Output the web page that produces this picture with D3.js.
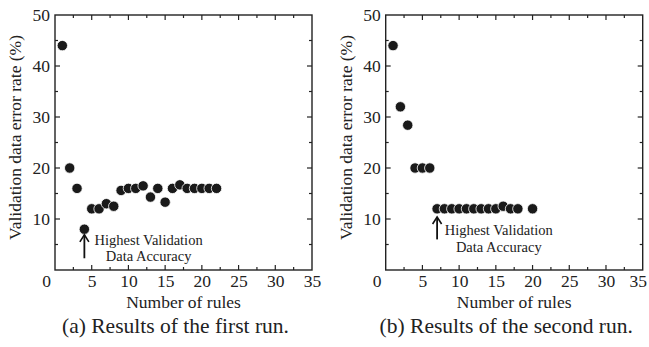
<!DOCTYPE html>
<html>
<head>
<meta charset="utf-8">
<script src="https://cdn.jsdelivr.net/npm/d3@7"></script>
<style>
  body { margin: 0; background: #fff; }
  svg { display: block; }
  text { font-family: "Liberation Serif", "Times New Roman", serif; fill: #222; }
</style>
</head>
<body>
<svg id="chart" width="649" height="347"></svg>
<script>
// data: number of rules vs validation error rate (%)
const rulesA = [1, 2, 3, 4, 5, 6, 7, 8, 9, 10, 11, 12, 13, 14, 15, 16, 17, 18, 19, 20, 21, 22];
const errorA = [44, 20, 16, 8, 12, 12, 13, 12.5, 15.6, 16, 16, 16.5, 14.3, 16, 13.3, 16, 16.7, 16, 16, 16, 16, 16];
const rulesB = [1, 2, 3, 4, 5, 6, 7, 8, 9, 10, 11, 12, 13, 14, 15, 16, 17, 18, 20];
const errorB = [44, 32, 28.4, 20, 20, 20, 12, 12, 12, 12, 12, 12, 12, 12, 12, 12.5, 12, 12, 12];
const xTicks = [0, 5, 10, 15, 20, 25, 30, 35];
const yTicks = [10, 20, 30, 40, 50];
const captions = ['(a) Results of the first run.', '(b) Results of the second run.'];
const bestA = 4, bestB = 7;

const svg = d3.select('#chart');

function panel(offsetX, rules, errors, best, caption, note, lastShift) {
  const m = { left: 55, top: 15 };
  const w = 257, h = 255;
  const x = d3.scaleLinear().domain([0, 35]).range([0, w]);
  const y = d3.scaleLinear().domain([0, 50]).range([h, 0]);

  const g = svg.append('g').attr('transform', `translate(${offsetX + m.left},${m.top})`);

  // minor ticks on all sides
  const minorX = d3.range(2.5, 35, 5);
  const minorY = d3.range(5, 50, 10);

  const frame = g.append('g');
  frame.append('rect').attr('width', w).attr('height', h)
    .attr('fill', 'none').attr('stroke', '#222').attr('stroke-width', 1.4);

  const tickG = frame.append('g').attr('stroke', '#222').attr('stroke-width', 1.2);
  xTicks.slice(1, -1).forEach(t => {
    tickG.append('line').attr('x1', x(t)).attr('x2', x(t)).attr('y1', h).attr('y2', h - 5);
    tickG.append('line').attr('x1', x(t)).attr('x2', x(t)).attr('y1', 0).attr('y2', 5);
  });
  minorX.forEach(t => {
    tickG.append('line').attr('x1', x(t)).attr('x2', x(t)).attr('y1', h).attr('y2', h - 3);
    tickG.append('line').attr('x1', x(t)).attr('x2', x(t)).attr('y1', 0).attr('y2', 3);
  });
  yTicks.slice(0, -1).forEach(t => {
    tickG.append('line').attr('x1', 0).attr('x2', 5).attr('y1', y(t)).attr('y2', y(t));
    tickG.append('line').attr('x1', w).attr('x2', w - 5).attr('y1', y(t)).attr('y2', y(t));
  });
  minorY.forEach(t => {
    tickG.append('line').attr('x1', 0).attr('x2', 3).attr('y1', y(t)).attr('y2', y(t));
    tickG.append('line').attr('x1', w).attr('x2', w - 3).attr('y1', y(t)).attr('y2', y(t));
  });

  // tick labels through d3 axes, lines hidden
  const xAxis = g.append('g').attr('transform', `translate(0,${h})`)
    .call(d3.axisBottom(x).tickValues(xTicks).tickSize(0).tickPadding(5));
  const yAxis = g.append('g')
    .call(d3.axisLeft(y).tickValues(yTicks).tickSize(0).tickPadding(5));
  [xAxis, yAxis].forEach(a => {
    a.select('.domain').remove();
    a.selectAll('text').attr('font-size', 17.5).attr('font-family', '"Liberation Serif", serif').attr('fill', '#222');
  });
  xAxis.selectAll('text').filter(d => d === 0).attr('dx', -9);
  xAxis.selectAll('text').filter(d => d === 35).attr('dx', lastShift);

  // axis titles
  g.append('text').attr('x', w / 2).attr('y', h + 38).attr('text-anchor', 'middle')
    .attr('font-size', 17.5).text('Number of rules');
  g.append('text').attr('transform', `translate(-34,${h / 2 - 5}) rotate(-90)`)
    .attr('text-anchor', 'middle').attr('font-size', 17.5).text('Validation data error rate (%)');
  g.append('text').attr('x', w / 2 - 8).attr('y', h + 63).attr('text-anchor', 'middle')
    .attr('font-size', 21.5).text(caption);

  // points
  g.selectAll('circle').data(rules.map((r, i) => [r, errors[i]])).enter().append('circle')
    .attr('cx', d => x(d[0])).attr('cy', d => y(d[1])).attr('r', 5.2)
    .attr('fill', '#1a1a1a').attr('stroke', '#fff').attr('stroke-width', 0.8);

  // annotation arrow
  const ax = x(best);
  g.append('line').attr('x1', ax).attr('x2', ax).attr('y1', y(note.arrowBottom)).attr('y2', y(note.arrowTop))
    .attr('stroke', '#111').attr('stroke-width', 1.8);
  g.append('path')
    .attr('d', `M${ax - 4.5},${y(note.arrowTop) + 7} L${ax},${y(note.arrowTop)} L${ax + 4.5},${y(note.arrowTop) + 7}`)
    .attr('fill', 'none').attr('stroke', '#111').attr('stroke-width', 1.6);
  g.append('text').attr('x', x(note.cx)).attr('y', y(note.y1)).attr('text-anchor', 'middle')
    .attr('font-size', 14.5).text('Highest Validation');
  g.append('text').attr('x', x(note.cx)).attr('y', y(note.y2)).attr('text-anchor', 'middle')
    .attr('font-size', 14.5).text('Data Accuracy');
}

panel(0, rulesA, errorA, bestA, captions[0], { arrowTop: 6.9, arrowBottom: 2.3, cx: 12.75, y1: 5.0, y2: 1.75 }, 0);
panel(330.7, rulesB, errorB, bestB, captions[1], { arrowTop: 10.4, arrowBottom: 6.0, cx: 15.4, y1: 6.85, y2: 3.6 }, -5);
</script>
</body>
</html>
